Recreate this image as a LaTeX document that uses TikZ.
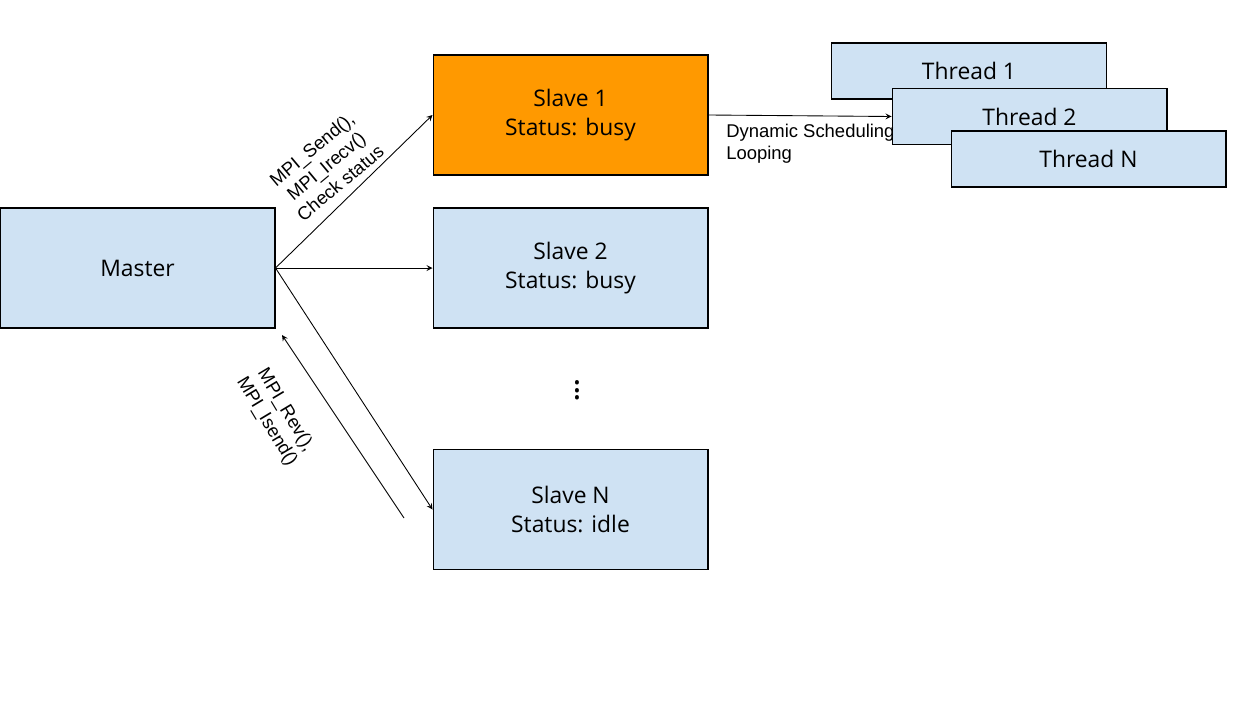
\documentclass[tikz,border=0pt]{standalone}
\usepackage{fontspec}
\setmainfont{Open Sans}
\newfontfamily\arialfont{Liberation Sans}
\usepackage{xcolor}
\usepackage{tikz}
\usetikzlibrary{shapes,arrows,positioning,calc}
\definecolor{boxblue}{HTML}{CFE2F3}
\definecolor{busyorange}{HTML}{FF9900}

\begin{document}
\begin{tikzpicture}[
    x=0.02cm, y=-0.02cm,
    box/.style={rectangle, draw, line width=0.6pt, fill=boxblue, minimum width=5.5cm, minimum height=2.4cm, align=center, font=\fontsize{13}{16.5}\selectfont},
    thread/.style={rectangle, draw, line width=0.6pt, fill=boxblue, minimum width=5.5cm, minimum height=1.12cm, font=\fontsize{13}{16.5}\selectfont},
    lbl/.style={font=\arialfont\fontsize{10.5}{12.5}\selectfont, align=center, inner sep=0pt},
    arrow/.style={->, line width=0.5pt, >=stealth}
]
\useasboundingbox (0,0) rectangle (1248,720);

% Master and slaves
\node[box] (master) at (137.5,268) {Master};

\node[box, fill=busyorange] (slave1) at (570.5,115) {Slave 1\\Status: busy};
\node[box] (slave2) at (570.5,268) {Slave 2\\Status: busy};
\node[box] (slaveN) at (570.5,509.5) {Slave N\\Status: idle};

\node[font=\fontsize{19}{19}\selectfont] (dots) at (577,385) {$\vdots$};

% Threads of the busy slave
\node[thread] (thread1) at (969,71) {Thread 1};
\node[thread] (thread2) at (1029.5,116.5) {Thread 2};
\node[thread] (threadN) at (1088.5,159) {Thread N};

% Messages
\draw[arrow] (master.east) -- (slave1.west);
\draw[arrow] (master.east) -- (slave2.west);
\draw[arrow] (master.east) -- (slaveN.west);

\coordinate (revstart) at (404,518);
\coordinate (revend) at (282,335);
\draw[arrow] (revstart) -- (revend);

\draw[arrow] (slave1.east) -- (thread2.west);

% Labels
\node[lbl, rotate=40] (sendlbl) at (326,166) {MPI\_Send(),\\MPI\_Irecv()\\Check status};
\node[lbl, rotate=-59] (revlbl) at (276,416) {MPI\_Rev(),\\MPI\_Isend()};
\node[lbl, align=left, anchor=north west] (schedlbl) at (726,124) {Dynamic Scheduling\\Looping};

\end{tikzpicture}
\end{document}
